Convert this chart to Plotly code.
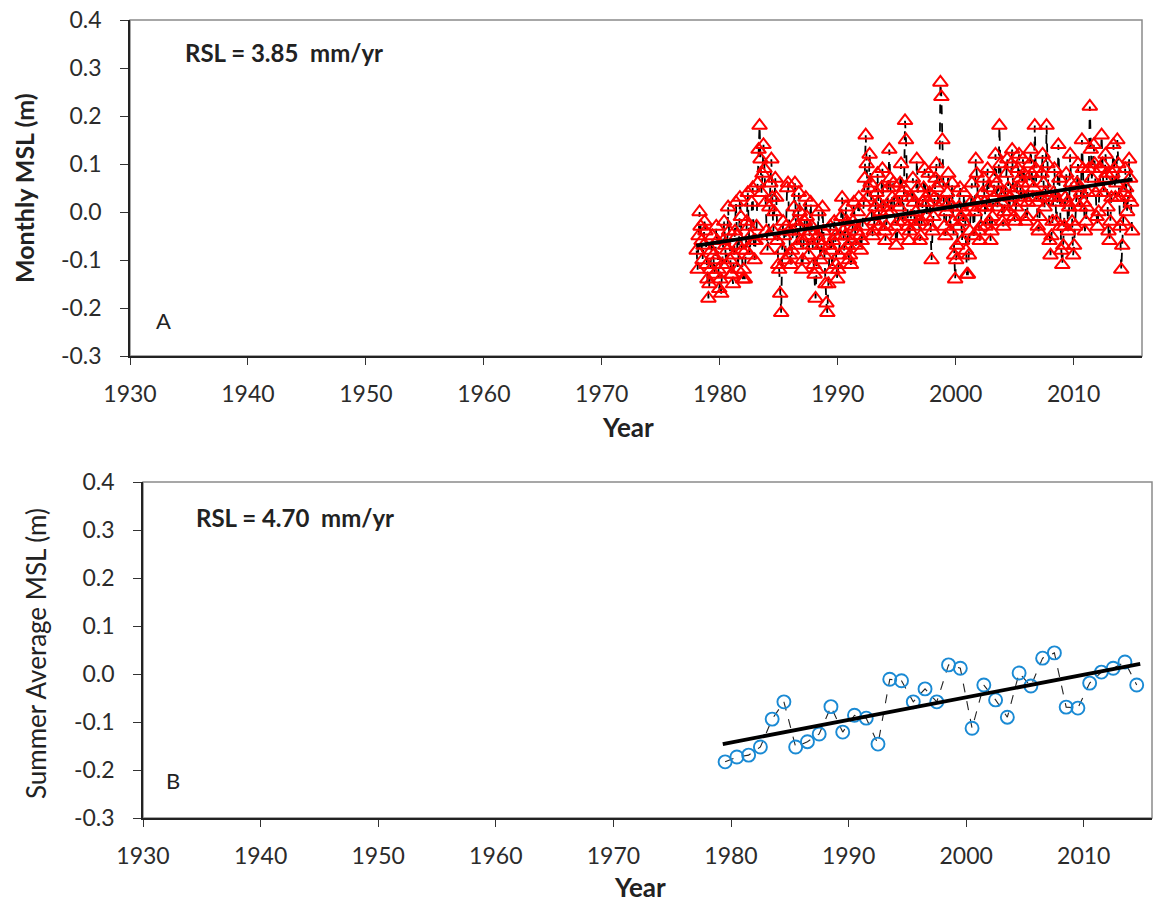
import plotly.graph_objects as go

W, H = 1156, 902

# ---------------- data ----------------
years_monthly = list(range(1978, 2015))
monthly_msl = [
    [-0.08, -0.12, -0.05, 0.00, -0.03, -0.06, -0.10, -0.07, -0.02, -0.04, -0.11, -0.14],  # 1978
    [-0.18, -0.15, -0.12, -0.08, -0.05, -0.09, -0.13, -0.10, -0.03, -0.06, -0.12, -0.16],  # 1979
    [-0.14, -0.17, -0.11, -0.06, -0.02, -0.07, -0.11, -0.08, 0.01, -0.04, -0.10, -0.13],   # 1980
    [-0.13, -0.15, -0.09, -0.04, 0.02, -0.05, -0.12, -0.07, 0.03, -0.01, -0.08, -0.14],    # 1981
    [-0.12, -0.14, -0.08, -0.02, 0.04, -0.03, -0.09, -0.05, 0.02, 0.05, -0.06, -0.10],     # 1982
    [-0.06, -0.03, 0.06, 0.13, 0.18, 0.11, 0.04, 0.08, 0.14, 0.09, 0.02, -0.04],           # 1983
    [-0.08, -0.05, 0.01, 0.06, 0.11, 0.03, -0.04, 0.00, 0.07, 0.03, -0.06, -0.11],         # 1984
    [-0.12, -0.17, -0.21, -0.08, -0.02, -0.05, -0.10, -0.03, 0.05, 0.06, -0.04, -0.09],    # 1985
    [-0.11, -0.08, -0.04, 0.01, 0.06, -0.02, -0.07, -0.03, 0.04, 0.00, -0.06, -0.12],      # 1986
    [-0.10, -0.06, -0.02, 0.03, -0.01, -0.05, -0.09, -0.04, 0.02, -0.03, -0.07, -0.11],    # 1987
    [-0.13, -0.18, -0.12, -0.05, 0.00, -0.06, -0.10, -0.07, 0.01, -0.04, -0.09, -0.15],    # 1988
    [-0.19, -0.21, -0.15, -0.07, -0.03, -0.08, -0.12, -0.06, -0.02, -0.05, -0.11, -0.14],  # 1989
    [-0.12, -0.09, -0.05, -0.01, 0.03, -0.04, -0.08, -0.05, 0.01, -0.02, -0.07, -0.10],    # 1990
    [-0.09, -0.11, -0.06, -0.02, 0.02, -0.03, -0.07, -0.04, 0.00, 0.03, -0.05, -0.08],     # 1991
    [-0.06, -0.03, 0.02, 0.07, 0.16, 0.10, 0.03, 0.05, 0.12, 0.06, -0.01, -0.05],          # 1992
    [-0.04, -0.02, 0.01, 0.04, 0.08, 0.02, -0.03, 0.00, 0.05, 0.09, 0.01, -0.04],          # 1993
    [-0.06, -0.03, 0.00, 0.05, 0.13, 0.07, 0.00, 0.03, 0.06, 0.02, -0.03, -0.07],          # 1994
    [-0.05, -0.02, 0.01, 0.06, 0.10, 0.04, -0.02, 0.05, 0.19, 0.15, 0.03, -0.03],          # 1995
    [-0.06, -0.04, -0.01, 0.03, 0.07, 0.02, -0.03, 0.00, 0.11, 0.05, -0.02, -0.06],        # 1996
    [-0.05, -0.02, 0.02, 0.05, 0.09, 0.03, -0.01, 0.02, 0.08, 0.04, -0.03, -0.10],         # 1997
    [-0.04, -0.01, 0.03, 0.07, 0.10, 0.05, 0.01, 0.06, 0.27, 0.24, 0.15, 0.02],            # 1998
    [-0.03, -0.05, 0.00, 0.04, 0.08, 0.02, -0.04, 0.01, 0.06, -0.02, -0.09, -0.14],        # 1999
    [-0.10, -0.07, -0.03, 0.01, 0.05, -0.01, -0.06, -0.02, 0.04, 0.00, -0.08, -0.13],      # 2000
    [-0.13, -0.09, -0.04, 0.02, 0.06, 0.01, -0.05, 0.00, 0.11, 0.08, 0.02, -0.04],         # 2001
    [-0.06, -0.03, 0.01, 0.04, 0.07, 0.02, -0.03, 0.01, 0.09, 0.05, -0.02, -0.06],         # 2002
    [-0.04, -0.01, 0.03, 0.07, 0.12, 0.06, 0.01, 0.04, 0.18, 0.10, 0.02, -0.02],           # 2003
    [-0.03, 0.00, 0.04, 0.08, 0.11, 0.05, 0.00, 0.03, 0.10, 0.13, 0.04, -0.01],            # 2004
    [-0.02, 0.01, 0.05, 0.09, 0.12, 0.07, 0.02, 0.06, 0.11, 0.08, 0.03, -0.02],            # 2005
    [-0.01, 0.02, 0.06, 0.10, 0.13, 0.08, 0.03, 0.05, 0.18, 0.09, 0.02, -0.03],            # 2006
    [-0.04, -0.01, 0.03, 0.08, 0.12, 0.06, 0.01, 0.04, 0.18, 0.10, 0.03, -0.06],           # 2007
    [-0.09, -0.05, -0.02, 0.04, 0.09, 0.03, -0.02, 0.02, 0.14, 0.07, -0.03, -0.08],        # 2008
    [-0.11, -0.07, -0.03, 0.03, 0.08, 0.02, -0.04, 0.01, 0.12, 0.06, -0.02, -0.09],        # 2009
    [-0.07, -0.03, 0.02, 0.06, 0.10, 0.05, 0.01, 0.04, 0.15, 0.09, 0.02, -0.04],           # 2010
    [-0.02, 0.01, 0.04, 0.09, 0.22, 0.13, 0.07, 0.09, 0.14, 0.10, 0.04, -0.01],            # 2011
    [-0.03, 0.00, 0.05, 0.09, 0.16, 0.10, 0.04, 0.07, 0.12, 0.08, 0.01, -0.04],            # 2012
    [-0.06, -0.02, 0.03, 0.08, 0.14, 0.09, 0.03, 0.06, 0.15, 0.10, 0.03, -0.03],           # 2013
    [-0.12, -0.07, -0.02, 0.04, 0.09, 0.05, 0.00, 0.03, 0.11, 0.07, 0.02, -0.04],          # 2014
]
trend_a_x = [1978.0, 2015.0]
trend_a_y = [-0.070, 0.068]

summer_years = [1979.5 + i for i in range(36)]
summer_msl = [-0.183, -0.173, -0.169, -0.152, -0.094, -0.058, -0.152, -0.141, -0.125,
              -0.068, -0.121, -0.086, -0.092, -0.146, -0.011, -0.014, -0.058, -0.031,
              -0.058, 0.019, 0.012, -0.113, -0.023, -0.054, -0.090, 0.002, -0.025,
              0.033, 0.044, -0.069, -0.071, -0.019, 0.004, 0.012, 0.025, -0.023]
trend_b_x = [1979.3, 2014.8]
trend_b_y = [-0.146, 0.021]

x_ticks = [1930, 1940, 1950, 1960, 1970, 1980, 1990, 2000, 2010]
y_ticks = [-0.3, -0.2, -0.1, 0.0, 0.1, 0.2, 0.3, 0.4]
y_ticklabels = ["-0.3", "-0.2", "-0.1", "0.0", "0.1", "0.2", "0.3", "0.4"]

# monthly x positions (mid-month)
mx, my = [], []
for yr, vals in zip(years_monthly, monthly_msl):
    for m, v in enumerate(vals):
        mx.append(yr + (m + 0.5) / 12.0)
        my.append(v)

FONT = "Lato, 'Open Sans', sans-serif"
TICKC = "#2b2b2b"

fig = go.Figure()

fig.add_trace(go.Scatter(
    x=mx, y=my, mode="lines+markers", xaxis="x", yaxis="y",
    line=dict(color="black", width=1.8, dash="dash"),
    marker=dict(symbol="triangle-up-open", color="#ff0000", size=13, line=dict(width=2, color="#ff0000")),
    showlegend=False))
fig.add_trace(go.Scatter(
    x=trend_a_x, y=trend_a_y, mode="lines", xaxis="x", yaxis="y",
    line=dict(color="black", width=3.8), showlegend=False))

fig.add_trace(go.Scatter(
    x=summer_years, y=summer_msl, mode="lines+markers", xaxis="x2", yaxis="y2",
    line=dict(color="#222222", width=1.1, dash="dash"),
    marker=dict(symbol="circle-open", color="#1a8ad4", size=13, line=dict(width=1.9, color="#1a8ad4")),
    showlegend=False))
fig.add_trace(go.Scatter(
    x=trend_b_x, y=trend_b_y, mode="lines", xaxis="x2", yaxis="y2",
    line=dict(color="black", width=3.8), showlegend=False))

def xd(a, b):
    return [a / W, b / W]

def yd(top, bottom):
    return [1 - bottom / H, 1 - top / H]

common_x = dict(range=[1930, 2015.8], tickvals=x_ticks, ticks="outside", ticklen=7,
                tickwidth=1.3, tickcolor="#333", showline=True, linecolor="#222", linewidth=1.6,
                showgrid=False, zeroline=False, automargin=False, ticklabelstandoff=10,
                tickfont=dict(family=FONT, size=23, color=TICKC))
common_y = dict(range=[-0.3, 0.4], tickvals=y_ticks, ticktext=y_ticklabels, ticks="outside", ticklen=8,
                tickwidth=1.3, tickcolor="#333", showline=True, linecolor="#222", linewidth=1.6,
                showgrid=False, zeroline=False, automargin=False, ticklabelstandoff=14,
                tickfont=dict(family=FONT, size=23, color=TICKC))

fig.update_layout(
    width=W, height=H, margin=dict(l=0, r=0, t=0, b=0),
    paper_bgcolor="white", plot_bgcolor="white",
    xaxis=dict(domain=xd(130, 1142), anchor="y", **common_x),
    yaxis=dict(domain=yd(20, 356), anchor="x", **common_y),
    xaxis2=dict(domain=xd(143, 1152), anchor="y2", **common_x),
    yaxis2=dict(domain=yd(482, 818), anchor="x2", **common_y),
)

# frames (top/right edges in grey)
for xr, yr in (("x domain", "y domain"), ("x2 domain", "y2 domain")):
    fig.add_shape(type="rect", xref=xr, yref=yr, x0=0, x1=1, y0=0, y1=1,
                  line=dict(color="#8a8a8a", width=1.5), layer="below")

def ann(text, x, y, size, bold=False, angle=0, color="#222"):
    fig.add_annotation(text=f"<b>{text}</b>" if bold else text, x=x / W, y=1 - y / H,
                       xref="paper", yref="paper", showarrow=False, textangle=angle,
                       xanchor="center", yanchor="middle",
                       font=dict(family=FONT, size=size, color=color))

ann("Monthly MSL (m)", 24, 188, 25, bold=True, angle=-90)
ann("Summer Average MSL (m)", 36, 654, 26, angle=-90)
ann("Year", 628, 427, 26, bold=True)
ann("Year", 640, 887, 26, bold=True)
ann("RSL = 3.85&nbsp;&nbsp;mm/yr", 284, 53, 24, bold=True)
ann("RSL = 4.70&nbsp;&nbsp;mm/yr", 295, 517, 24, bold=True)
ann("A", 163, 320, 22)
ann("B", 173, 780, 22)

fig.write_html("out.html")
